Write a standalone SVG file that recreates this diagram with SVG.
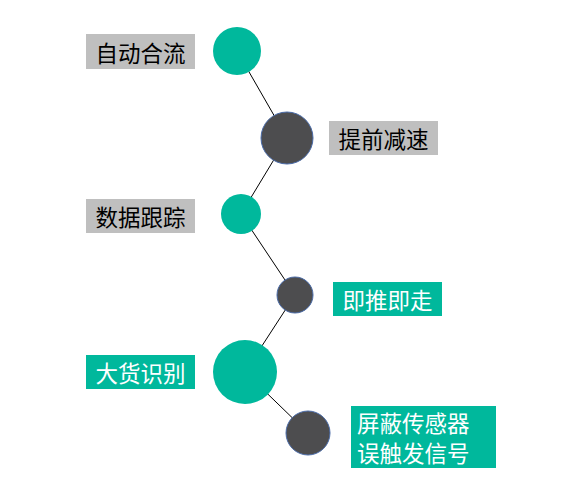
<svg xmlns="http://www.w3.org/2000/svg" width="573" height="480" viewBox="0 0 573 480">
<style>
.teal{fill:#00B89C}
.dark{fill:#4D4D4F;stroke:#4A6BA8;stroke-width:1}
.gbox{fill:#BFBFBF}
.tbox{fill:#00B89C}
.t{font-family:"Noto Sans CJK SC","Noto Sans",sans-serif;font-size:22.5px;dominant-baseline:central}
.bk{fill:#000}
.wh{fill:#fff}
.conn{stroke:#000;stroke-width:1;fill:none}
</style>
<rect width="573" height="480" fill="#fff"/>
<g id="connectors">
<line class="conn" x1="237" y1="51" x2="287" y2="138"/>
<line class="conn" x1="287" y1="138" x2="241" y2="214"/>
<line class="conn" x1="241" y1="214" x2="295" y2="295"/>
<line class="conn" x1="295" y1="295" x2="245" y2="372"/>
<line class="conn" x1="245" y1="372" x2="308" y2="433"/>
</g>
<g id="n1">
<circle class="teal" cx="237" cy="51" r="24"/>
<rect class="gbox" x="86" y="34" width="109" height="35"/>
<text class="t bk" x="140.5" y="51.5" text-anchor="middle">自动合流</text>
</g>
<g id="n2">
<circle class="dark" cx="287" cy="138" r="26"/>
<rect class="gbox" x="329" y="121" width="109" height="34"/>
<text class="t bk" x="383.5" y="138" text-anchor="middle">提前减速</text>
</g>
<g id="n3">
<circle class="teal" cx="241" cy="214" r="20"/>
<rect class="gbox" x="86" y="199" width="109" height="34"/>
<text class="t bk" x="140.5" y="216" text-anchor="middle">数据跟踪</text>
</g>
<g id="n4">
<circle class="dark" cx="295" cy="295" r="18"/>
<rect class="tbox" x="333" y="282" width="109" height="34"/>
<text class="t wh" x="387.5" y="299" text-anchor="middle">即推即走</text>
</g>
<g id="n5">
<circle class="teal" cx="245" cy="372" r="32"/>
<rect class="tbox" x="86" y="355" width="109" height="34"/>
<text class="t wh" x="140.5" y="372" text-anchor="middle">大货识别</text>
</g>
<g id="n6">
<circle class="dark" cx="308" cy="433" r="22"/>
<rect class="tbox" x="351" y="406" width="145" height="62"/>
<text class="t wh" x="357" y="422">屏蔽传感器</text>
<text class="t wh" x="357" y="451.5">误触发信号</text>
</g>
</svg>
